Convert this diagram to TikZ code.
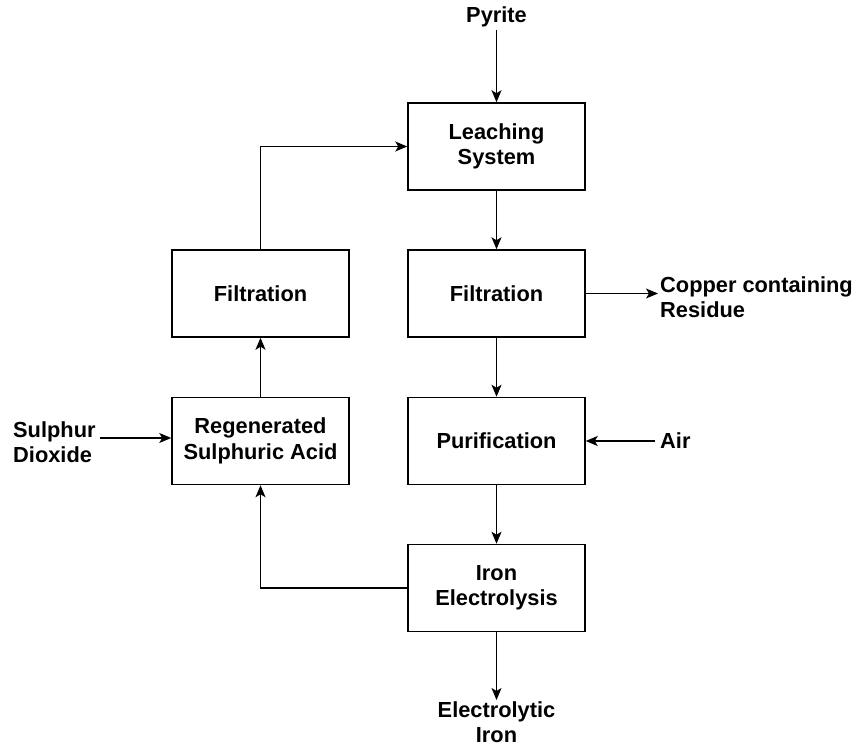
\documentclass[tikz,border=0pt]{standalone}
\usepackage{fontspec}
\setmainfont{Liberation Sans}
\usetikzlibrary{arrows.meta}
\begin{document}
\begin{tikzpicture}[x=1pt,y=-1pt,
  box/.style={draw, line width=1.5pt, minimum width=177pt, minimum height=87pt, align=center, font=\fontsize{21.8}{25.5}\selectfont\bfseries, inner sep=0pt},
  lbl/.style={align=left, font=\fontsize{21.8}{25}\selectfont\bfseries, inner sep=0pt},
  arr/.style={-{Stealth[length=12pt,width=10pt,inset=3pt]}, line width=1.3pt}]
\useasboundingbox (0,0) rectangle (858,746);
\node[box] (leach) at (496.5,146.5) {Leaching\\System};
\node[box] (filtr) at (496.5,293.5) {Filtration};
\node[box] (purif) at (496.5,441) {Purification};
\node[box] (iron) at (496.5,588) {Iron\\Electrolysis};
\node[box] (filtl) at (260.5,293.5) {Filtration};
\node[box] (regen) at (260.5,441) {Regenerated\\Sulphuric Acid};
\node[lbl, align=center] (pyrite) at (496.5,17) {Pyrite};
\node[lbl, anchor=west] (copper) at (660,297) {Copper containing\\Residue};
\node[lbl, anchor=west] (air) at (660,441) {Air};
\node[lbl, anchor=west] (so2) at (13,442) {Sulphur\\Dioxide};
\node[lbl, align=center] (eiron) at (496.5,722) {Electrolytic\\Iron};
\coordinate (pyt) at (496.5,30);
\coordinate (eib) at (496.5,700);
\coordinate (cpe) at (658,293.5);
\coordinate (airs) at (655,441);
\coordinate (so2e) at (100,438);
\draw[arr] (pyt) -- (leach.north);
\draw[arr] (leach.south) -- (filtr.north);
\draw[arr] (filtr.south) -- (purif.north);
\draw[arr] (purif.south) -- (iron.north);
\draw[arr] (iron.south) -- (eib);
\draw[arr] (filtr.east) -- (cpe);
\draw[arr] (airs) -- (purif.east);
\draw[arr] (so2e) -- (regen.west |- so2e);
\draw[arr] (iron.west) -| (regen.south);
\draw[arr] (regen.north) -- (filtl.south);
\draw[arr] (filtl.north) |- (leach.west);
\end{tikzpicture}
\end{document}
